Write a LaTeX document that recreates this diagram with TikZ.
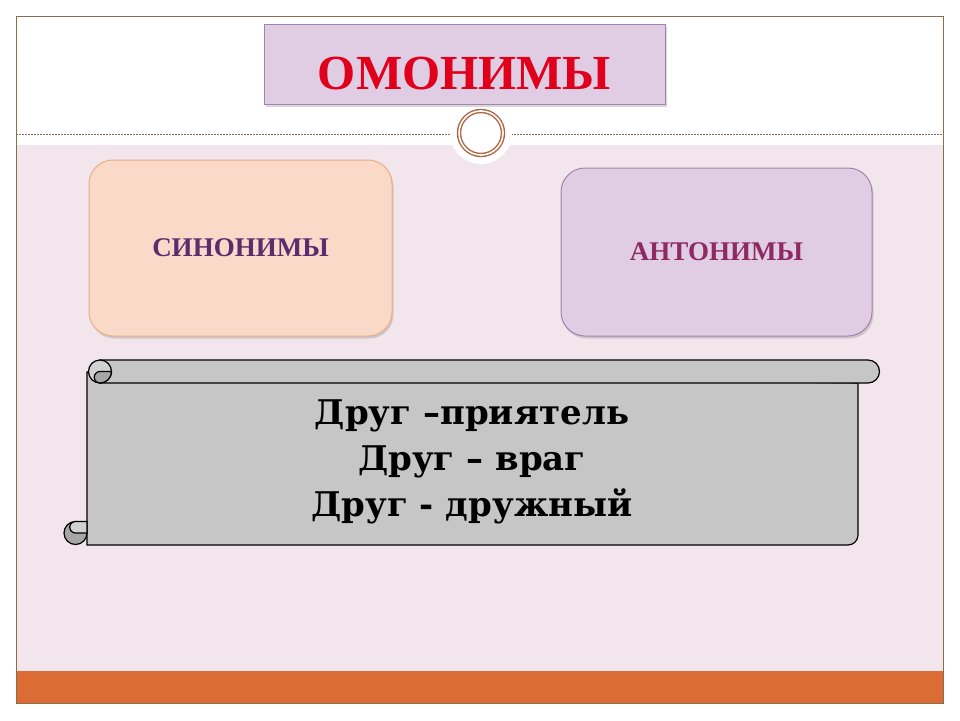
\documentclass[tikz,border=0pt]{standalone}
\usepackage{fontspec}
\setmainfont{Liberation Serif}
\newfontfamily\scrollfont{DejaVu Serif}
\usetikzlibrary{shadows}

\definecolor{framebrown}{HTML}{8C6B4F}
\definecolor{pinkbg}{HTML}{F2E5EC}
\definecolor{barorange}{HTML}{DB6C33}
\definecolor{ringbrown}{HTML}{B0643F}
\definecolor{lilacfill}{HTML}{E0CCE3}
\definecolor{lilacline}{HTML}{A283B0}
\definecolor{titlered}{HTML}{E0001B}
\definecolor{peachfill}{HTML}{FBD9C8}
\definecolor{peachline}{HTML}{E6AE86}
\definecolor{synpurple}{HTML}{5B2D6E}
\definecolor{antwine}{HTML}{8E2A63}
\definecolor{scrollgray}{HTML}{C6C6C6}
\definecolor{curllight}{HTML}{D2D2D2}
\definecolor{curldark}{HTML}{A6A6A6}

\begin{document}
\begin{tikzpicture}[x=1pt, y=-1pt,
  card/.style={draw, rounded corners=24pt, line width=1pt, align=center,
    font=\bfseries\fontsize{27}{30}\selectfont},
  shade/.style={drop shadow={opacity=0.3, shadow xshift=1.5pt, shadow yshift=-2.5pt}},
  scroll/.style={draw=black, line width=1.2pt, fill=scrollgray}
]
\useasboundingbox (0,0) rectangle (960,720);

% slide background
\fill[white] (0,0) rectangle (960,720);
\fill[pinkbg] (16,145) rectangle (943,671);
\fill[barorange] (16,671) rectangle (943,703);
\draw[framebrown, line width=0.8pt] (16,16) rectangle (943,703);
\draw[framebrown, line width=0.6pt, dash pattern=on 2pt off 1pt] (16,134) -- (943,134);

% ring on the divider
\node[circle, fill=white, minimum size=62pt, inner sep=0pt] (ringbg) at (481,133) {};
\node[circle, draw=ringbrown, double=white, double distance=1.6pt, line width=1.4pt,
  minimum size=44pt, inner sep=0pt] (ring) at (481,133) {};

% title
\node[draw=lilacline, fill=lilacfill, line width=0.8pt, shade,
  minimum width=401pt, minimum height=80pt, text height=50pt, text depth=0pt,
  text=titlered, font=\bfseries\fontsize{49}{55}\selectfont] (title) at (464.5,64) {ОМОНИМЫ};

% the three word kinds
\node[card, draw=peachline, fill=peachfill, shade, text=synpurple,
  minimum width=303pt, minimum height=176pt] (syn) at (240.5,248) {СИНОНИМЫ};
\node[card, draw=lilacline, fill=lilacfill, shade, text=antwine,
  minimum width=311pt, minimum height=168pt] (ant) at (716.5,252) {АНТОНИМЫ};

% scroll
\draw[scroll] (87,372) -- (87,545) -- (848,545)
  arc[start angle=90, end angle=0, radius=10] -- (858,383) -- cycle;
\draw[scroll] (100,360) -- (868,360)
  arc[start angle=-90, end angle=90, radius=11.5] -- (100,383) -- cycle;
\draw[scroll, fill=curllight] (100,371.5) circle[radius=11.5];
\draw[scroll, fill=curldark] (100,371.5)
  arc[start angle=-90, end angle=-270, radius=5.75]
  arc[start angle=90, end angle=0, radius=11.5] -- cycle;
\draw[scroll, fill=curldark] (75.5,533) circle[radius=11.5];
\draw[scroll, fill=curllight] (75.5,533) -- (87,533) -- (87,521.5) -- (75.5,521.5)
  arc[start angle=-90, end angle=-270, radius=5.75];

\node[align=center, font=\scrollfont\bfseries\fontsize{34}{46}\selectfont] (pairs) at (472,462)
  {Друг –приятель\\Друг – враг\\Друг - дружный};
\end{tikzpicture}
\end{document}
